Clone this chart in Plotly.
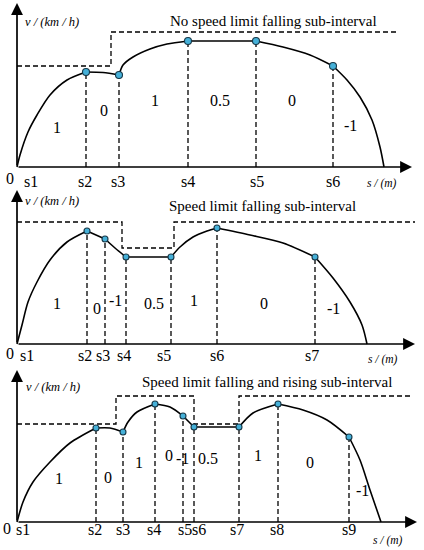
import plotly.graph_objects as go

FONT = "Liberation Serif, Times New Roman, serif"

# ---- panel 1: no speed limit falling ----
p1_title = "No speed limit falling sub-interval"
p1_curve_s = [0, 3, 11, 20, 33, 50, 69, 86, 102, 106, 116, 133, 150, 171, 239, 266, 293, 316, 330, 343, 355, 363, 367]
p1_curve_v = [0, 12, 35, 52, 72, 87, 95, 94.5, 92, 102, 110, 118, 123, 126, 126, 120, 112, 101, 87, 70, 47, 20, 0]
p1_marks = [6, 8, 13, 14, 17]
p1_limit_s = [0, 94, 381]
p1_limit_v = [101, 135, 135]
p1_seg_text = ["1", "0", "1", "0.5", "0", "-1"]
p1_seg_s = [40, 87, 138, 203, 275, 333]
p1_seg_v = [40, 57, 67, 67, 67, 42]
p1_tick_text = ["s1", "s2", "s3", "s4", "s5", "s6"]
p1_tick_s = [14, 68, 101, 171, 240, 316]

# ---- panel 2: speed limit falling ----
p2_title = "Speed limit falling sub-interval"
p2_curve_s = [0, 5, 11, 20, 33, 50, 70, 88, 98, 109, 154, 163, 176, 190, 200, 233, 266, 298, 316, 333, 345, 350]
p2_curve_v = [0, 19, 42, 62, 84, 102, 113, 105, 96, 87, 87, 97, 107, 113, 116, 109, 101, 87, 66, 42, 19, 0]
p2_marks = [6, 7, 9, 10, 14, 17]
p2_limit_s = [0, 105, 157, 398]
p2_limit_v = [122, 96, 122, 122]
p2_seg_text = ["1", "0", "-1", "0.5", "1", "0", "-1"]
p2_seg_s = [40, 80, 98, 137, 177, 247, 316]
p2_seg_v = [41, 36, 44, 41, 44, 41, 36]
p2_tick_text = ["s1", "s2", "s3", "s4", "s5", "s6", "s7"]
p2_tick_s = [10, 68, 86, 107, 147, 200, 295]

# ---- panel 3: speed limit falling and rising ----
p3_title = "Speed limit falling and rising sub-interval"
p3_curve_s = [0, 6, 16, 33, 53, 79, 93, 106, 111, 120, 138, 153, 166, 177, 222, 236, 261, 286, 310, 332, 343, 353, 364]
p3_curve_v = [0, 20, 40, 60, 79, 94, 94, 90, 100, 110, 118, 115, 106, 95, 95, 109, 118, 112, 102, 85, 62, 32, 0]
p3_marks = [5, 7, 10, 12, 13, 14, 16, 19]
p3_limit_s = [0, 99, 177, 222, 396]
p3_limit_v = [98, 126, 98, 126, 126]
p3_seg_text = ["1", "0", "1", "0", "-1", "0.5", "1", "0", "-1"]
p3_seg_s = [42, 91, 122, 152, 165, 191, 241, 293, 345]
p3_seg_v = [44, 45, 60, 67, 64, 64, 67, 60, 32]
p3_tick_text = ["s1", "s2", "s3", "s4", "s5", "s6", "s7", "s8", "s9"]
p3_tick_s = [6, 78, 106, 137, 168, 182, 220, 260, 332]


def draw_panel(fig, n, title, cs, cv, marks, ls, lv, seg_text, seg_s, seg_v,
               tick_text, tick_s, tick_v, zero, unit, title_pos, vlab, arrows, msize):
    xr = "x" if n == 1 else "x%d" % n
    yr = "y" if n == 1 else "y%d" % n

    # speed limit (dashed step line)
    fig.add_trace(go.Scatter(x=ls, y=lv, mode="lines", line_shape="hv",
                             line=dict(color="black", width=1.3, dash="5px,3px"),
                             xaxis=xr, yaxis=yr, hoverinfo="skip"))

    # dashed drops from switching points
    vx, vy = [], []
    for i in marks:
        vx += [cs[i], cs[i], None]
        vy += [0, cv[i], None]
    fig.add_trace(go.Scatter(x=vx, y=vy, mode="lines",
                             line=dict(color="black", width=1.3, dash="5px,3px"),
                             xaxis=xr, yaxis=yr, hoverinfo="skip"))

    # speed curve, one spline per sub-interval so corners stay sharp
    cuts = [0] + marks + [len(cs) - 1]
    for a, b in zip(cuts[:-1], cuts[1:]):
        fig.add_trace(go.Scatter(x=cs[a:b + 1], y=cv[a:b + 1], mode="lines",
                                 line=dict(color="black", width=1.6, shape="spline", smoothing=0.8),
                                 xaxis=xr, yaxis=yr, hoverinfo="skip"))

    fig.add_trace(go.Scatter(x=[cs[i] for i in marks], y=[cv[i] for i in marks], mode="markers",
                             marker=dict(size=msize, color="#45b0d8",
                                         line=dict(color="#163848", width=1.1)),
                             xaxis=xr, yaxis=yr, hoverinfo="skip"))

    # axes with arrows
    fig.add_annotation(x=arrows[0], y=0, ax=0, ay=0, xref=xr, yref=yr, axref=xr, ayref=yr,
                       text="", showarrow=True, arrowhead=2, arrowsize=1.4, arrowwidth=1.7,
                       arrowcolor="black")
    fig.add_annotation(x=0, y=arrows[1], ax=0, ay=0, xref=xr, yref=yr, axref=xr, ayref=yr,
                       text="", showarrow=True, arrowhead=2, arrowsize=1.4, arrowwidth=1.7,
                       arrowcolor="black")

    for t, x, y in zip(seg_text, seg_s, seg_v):
        fig.add_annotation(x=x, y=y, xref=xr, yref=yr, text=t, showarrow=False,
                           font=dict(family=FONT, size=16, color="black"))
    for t, x in zip(tick_text, tick_s):
        fig.add_annotation(x=x, y=tick_v, xref=xr, yref=yr, text=t, showarrow=False,
                           font=dict(family=FONT, size=16, color="black"))
    fig.add_annotation(x=zero[0], y=zero[1], xref=xr, yref=yr, text="0", showarrow=False,
                       font=dict(family=FONT, size=16, color="black"))
    fig.add_annotation(x=unit[0], y=unit[1], xref=xr, yref=yr, text="<i>s / (m)</i>",
                       showarrow=False, font=dict(family=FONT, size=11.5, color="black"))
    fig.add_annotation(x=title_pos[0], y=title_pos[1], xref=xr, yref=yr, text=title,
                       showarrow=False, font=dict(family=FONT, size=15, color="black"))
    fig.add_annotation(x=vlab[0], y=vlab[1], xref=xr, yref=yr, text="<i>v / (km / h)</i>",
                       showarrow=False, font=dict(family=FONT, size=12.5, color="black"))


fig = go.Figure()
draw_panel(fig, 1, p1_title, p1_curve_s, p1_curve_v, p1_marks, p1_limit_s, p1_limit_v,
           p1_seg_text, p1_seg_s, p1_seg_v, p1_tick_text, p1_tick_s, -14,
           (-7, -11), (365, -16), (256, 146), (35, 145), (395, 164), 7)
draw_panel(fig, 2, p2_title, p2_curve_s, p2_curve_v, p2_marks, p2_limit_s, p2_limit_v,
           p2_seg_text, p2_seg_s, p2_seg_v, p2_tick_text, p2_tick_s, -11,
           (-7, -9), (366, -15), (245, 138), (35, 143), (398, 154), 6)
draw_panel(fig, 3, p3_title, p3_curve_s, p3_curve_v, p3_marks, p3_limit_s, p3_limit_v,
           p3_seg_text, p3_seg_s, p3_seg_v, p3_tick_text, p3_tick_s, -7,
           (-10, -6), (371, -18), (250, 140), (36, 135), (400, 152), 6)

hidden = dict(visible=False, showgrid=False, zeroline=False)
fig.update_layout(
    width=424, height=550,
    margin=dict(l=0, r=0, t=0, b=0),
    paper_bgcolor="white", plot_bgcolor="white",
    showlegend=False,
    xaxis=dict(range=[-17, 407], domain=[0, 1], anchor="y", **hidden),
    xaxis2=dict(range=[-17, 407], domain=[0, 1], anchor="y2", **hidden),
    xaxis3=dict(range=[-17, 407], domain=[0, 1], anchor="y3", **hidden),
    yaxis=dict(range=[-18, 167], domain=[1 - 185 / 550, 1], anchor="x", **hidden),
    yaxis2=dict(range=[-21, 159], domain=[1 - 365 / 550, 1 - 185 / 550], anchor="x2", **hidden),
    yaxis3=dict(range=[-28, 157], domain=[0, 1 - 365 / 550], anchor="x3", **hidden),
)

# drop the page's default body margin so the figure sits at the window corner
fig.write_html("out.html", config={"displayModeBar": False},
               post_script="document.body.style.margin='0';")
